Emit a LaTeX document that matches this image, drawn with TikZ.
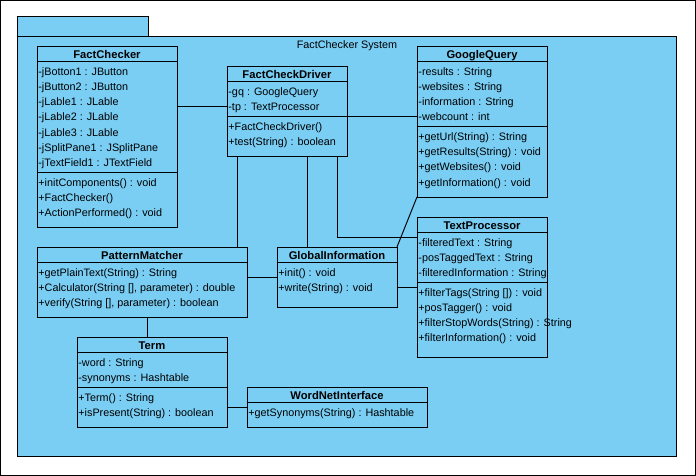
\documentclass[tikz,border=0pt]{standalone}
\usepackage{fontspec}
\setmainfont{Liberation Sans}
\usetikzlibrary{calc}
\definecolor{pkgblue}{RGB}{122,206,244}
\tikzset{
  cls/.style={draw=black, line width=1pt, fill=pkgblue, anchor=north west, inner sep=0pt, outer sep=0pt},
  pkgbox/.style={draw=black, line width=1pt, fill=pkgblue, anchor=north west, inner sep=0pt, outer sep=0pt},
  ttl/.style={font=\fontsize{11.2}{13}\selectfont\bfseries, inner sep=0pt, anchor=base},
  row/.style={font=\fontsize{10.8}{13}\selectfont, inner sep=0pt, anchor=base west},
  lbl/.style={font=\fontsize{10.8}{13}\selectfont, inner sep=0pt, anchor=base},
  conn/.style={draw=black, line width=1pt},
}
\newcommand\umlclass[6]{%
  \node[cls, minimum width=#4pt, minimum height=#5pt] (#1) at (#2,#3) {};
  \node[ttl] (#1-t) at ($(#1.north)+(0,-12pt)$) {#6};
  \draw[line width=1pt] ([yshift=-15pt]#1.north west) -- ([yshift=-15pt]#1.north east);
}
% #3 = row centre offset from the top of the box; baseline is 4pt lower
\newcommand\umlrow[4]{%
  \node[row] (#1-#2) at ([xshift=1.2pt,yshift=-#3pt-4pt]#1.north west) {#4};
}
\newcommand\umlsep[2]{%
  \draw[line width=1pt] ([yshift=-#2pt]#1.north west) -- ([yshift=-#2pt]#1.north east);
}
\begin{document}
\begin{tikzpicture}[x=1pt,y=-1pt]
\useasboundingbox (0,0) rectangle (696,476);
\fill[white] (0,0) rectangle (696,476);
\draw[line width=1.2pt] (0.6,0.6) rectangle (695.4,475.4);
% package
\node[pkgbox, minimum width=131pt, minimum height=20pt] (pkgtab) at (17,17) {};
\node[pkgbox, minimum width=659pt, minimum height=419pt] (pkg) at (17,37) {};
\node[lbl] (pkglbl) at (347,49) {FactChecker System};

% FactChecker
\umlclass{fc}{37}{47}{140}{180}{FactChecker}
\umlrow{fc}{a1}{25}{-jBotton1 : JButton}
\umlrow{fc}{a2}{40}{-jButton2 : JButton}
\umlrow{fc}{a3}{55}{-jLable1 : JLable}
\umlrow{fc}{a4}{70}{-jLable2 : JLable}
\umlrow{fc}{a5}{85}{-jLable3 : JLable}
\umlrow{fc}{a6}{100}{-jSplitPane1 : JSplitPane}
\umlrow{fc}{a7}{115}{-jTextField1 : JTextField}
\umlsep{fc}{125}
\umlrow{fc}{m1}{135}{+initComponents() : void}
\umlrow{fc}{m2}{150}{+FactChecker()}
\umlrow{fc}{m3}{165}{+ActionPerformed() : void}

% FactCheckDriver
\umlclass{fcd}{227}{67}{120}{90}{FactCheckDriver}
\umlrow{fcd}{gq}{25}{-gq : GoogleQuery}
\umlrow{fcd}{tp}{40}{-tp : TextProcessor}
\umlsep{fcd}{50}
\umlrow{fcd}{m1}{60}{+FactCheckDriver()}
\umlrow{fcd}{m2}{75}{+test(String) : boolean}

% GoogleQuery
\umlclass{gq}{417}{47}{130}{150}{GoogleQuery}
\umlrow{gq}{a1}{25}{-results : String}
\umlrow{gq}{a2}{40}{-websites : String}
\umlrow{gq}{a3}{55}{-information : String}
\umlrow{gq}{a4}{70}{-webcount : int}
\umlsep{gq}{80}
\umlrow{gq}{m1}{90}{+getUrl(String) : String}
\umlrow{gq}{m2}{105}{+getResults(String) : void}
\umlrow{gq}{m3}{120}{+getWebsites() : void}
\umlrow{gq}{m4}{135}{+getInformation() : void}

% TextProcessor
\umlclass{tp}{417}{217}{130}{140}{TextProcessor}
\umlrow{tp}{a1}{25}{-filteredText : String}
\umlrow{tp}{a2}{40}{-posTaggedText : String}
\umlrow{tp}{a3}{55}{-filteredInformation : String}
\umlsep{tp}{65}
\umlrow{tp}{m1}{75}{+filterTags(String []) : void}
\umlrow{tp}{m2}{90}{+posTagger() : void}
\umlrow{tp}{m3}{105}{+filterStopWords(String) : String}
\umlrow{tp}{m4}{120}{+filterInformation() : void}

% GlobalInformation
\umlclass{gi}{277}{247}{120}{60}{GlobalInformation}
\umlrow{gi}{m1}{25}{+init() : void}
\umlrow{gi}{m2}{40}{+write(String) : void}

% PatternMatcher
\umlclass{pm}{37}{247}{210}{70}{PatternMatcher}
\umlrow{pm}{m1}{25}{+getPlainText(String) : String}
\umlrow{pm}{m2}{40}{+Calculator(String [], parameter) : double}
\umlrow{pm}{m3}{55}{+verify(String [], parameter) : boolean}

% Term
\umlclass{term}{77}{337}{150}{90}{Term}
\umlrow{term}{a1}{25}{-word : String}
\umlrow{term}{a2}{40}{-synonyms : Hashtable}
\umlsep{term}{50}
\umlrow{term}{m1}{60}{+Term() : String}
\umlrow{term}{m2}{75}{+isPresent(String) : boolean}

% WordNetInterface
\umlclass{wn}{247}{387}{180}{40}{WordNetInterface}
\umlrow{wn}{m1}{25}{+getSynonyms(String) : Hashtable}

% connectors
\draw[conn] ([yshift=-40pt]fcd.north west) -- ([yshift=-40pt]fcd.north west -| fc.east);
\draw[conn] ([yshift=-50pt]fcd.north east) -- ([yshift=-50pt]fcd.north east -| gq.west);
\draw[conn] ([xshift=-10pt]pm.north east) -- ([xshift=-10pt]pm.north east |- fcd.south);
\draw[conn] ([xshift=30pt]gi.north west) -- ([xshift=30pt]gi.north west |- fcd.south);
\draw[conn] ([xshift=-10pt]fcd.south east) |- ([yshift=-20pt]tp.north west);
\draw[conn] (gq.south west) -- (gi.north east);
\draw[conn] ([yshift=-30pt]gi.north west) -- ([yshift=-30pt]gi.north west -| pm.east);
\draw[conn] ([yshift=-40pt]gi.north east) -- ([yshift=-40pt]gi.north east -| tp.west);
\draw[conn] ([xshift=70pt]term.north west) -- ([xshift=70pt]term.north west |- pm.south);
\draw[conn] (wn.west) -- (term.east |- wn.west);
\end{tikzpicture}
\end{document}
